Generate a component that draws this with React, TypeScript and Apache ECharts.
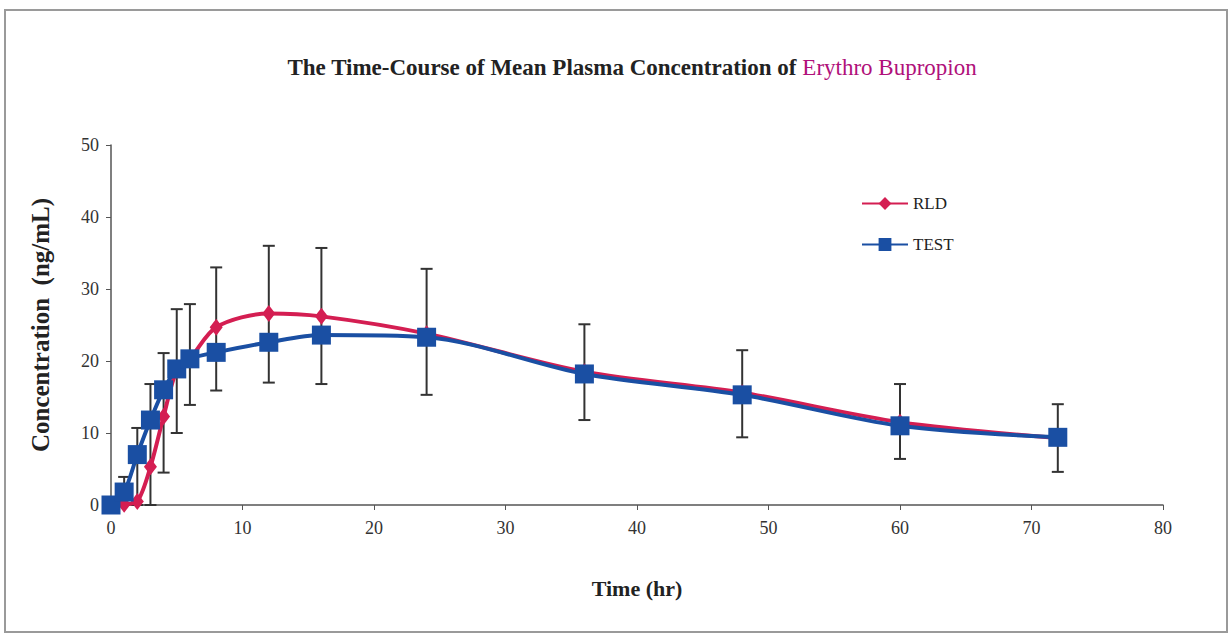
import React, { useEffect, useRef } from "react";
import * as echarts from "echarts";

const times = [0, 1, 2, 3, 4, 5, 6, 8, 12, 16, 24, 36, 48, 60, 72];
const rld = [0, 0.1, 0.5, 5.3, 12.3, 18.7, 20.3, 24.7, 26.6, 26.2, 23.8, 18.5, 15.6, 11.5, 9.3];
const test = [0, 1.8, 7.0, 11.8, 16.0, 18.9, 20.3, 21.2, 22.6, 23.6, 23.3, 18.2, 15.3, 11.0, 9.4];
const errLow = [0, 0, 0, 0, 4.5, 10.0, 13.9, 15.9, 17.0, 16.8, 15.3, 11.8, 9.4, 6.4, 4.6];
const errHigh = [0, 3.9, 10.7, 16.8, 21.1, 27.2, 27.9, 33.0, 36.0, 35.7, 32.8, 25.1, 21.5, 16.8, 14.0];
const xTicks = { min: 0, max: 80, interval: 10 };
const yTicks = { min: 0, max: 50, interval: 10 };

const FONT = "'Liberation Serif', 'Times New Roman', serif";

export default function App() {
  const ref = useRef<HTMLDivElement>(null);
  useEffect(() => {
    if (!ref.current) return;
    const chart = echarts.init(ref.current, null, { renderer: "svg" });
    const errData = times
      .map((t, i) => [t, errLow[i], errHigh[i]])
      .filter((d) => d[2] > d[1]);
    chart.setOption({
      animation: false,
      backgroundColor: "#ffffff",
      grid: { left: 111, right: 68, top: 145, bottom: 132 },
      legend: {
        data: ["RLD", "TEST"],
        orient: "vertical",
        left: 856,
        top: 190,
        itemGap: 24,
        itemWidth: 46,
        itemHeight: 16,
        textStyle: { fontFamily: FONT, fontSize: 17, color: "#222" },
      },
      graphic: [
        {
          type: "rect",
          shape: { x: 5, y: 10, width: 1222, height: 622 },
          style: { fill: "none", stroke: "#9a9a9a", lineWidth: 2 },
          silent: true,
        },
        {
          type: "text",
          x: 632,
          y: 56,
          style: {
            text: "{a|The Time-Course of Mean Plasma Concentration of }{b|Erythro Bupropion}",
            textAlign: "center",
            rich: {
              a: { fontFamily: FONT, fontWeight: "bold", fontSize: 23, fill: "#222" },
              b: { fontFamily: FONT, fontSize: 23, fill: "#b0107a" },
            },
          },
        },
      ],
      xAxis: {
        type: "value",
        min: xTicks.min,
        max: xTicks.max,
        interval: xTicks.interval,
        name: "Time (hr)",
        nameLocation: "middle",
        nameGap: 72,
        nameTextStyle: { fontFamily: FONT, fontWeight: "bold", fontSize: 22, color: "#222" },
        axisLine: { lineStyle: { color: "#555", width: 1.5 } },
        axisTick: { lineStyle: { color: "#555" }, length: 5 },
        axisLabel: { fontFamily: FONT, fontSize: 18, color: "#333", margin: 14 },
        splitLine: { show: false },
      },
      yAxis: {
        type: "value",
        min: yTicks.min,
        max: yTicks.max,
        interval: yTicks.interval,
        name: "Concentration  (ng/mL)",
        nameLocation: "middle",
        nameGap: 58,
        nameTextStyle: { fontFamily: FONT, fontWeight: "bold", fontSize: 25, color: "#222" },
        axisLine: { show: true, lineStyle: { color: "#555", width: 1.5 } },
        axisTick: { show: true, lineStyle: { color: "#555" }, length: 5 },
        axisLabel: { fontFamily: FONT, fontSize: 18, color: "#333", margin: 12 },
        splitLine: { show: false },
      },
      series: [
        {
          type: "custom",
          name: "err",
          z: 1,
          data: errData,
          encode: { x: 0, y: [1, 2] },
          renderItem: (params: any, api: any) => {
            const t = api.value(0);
            const lo = api.coord([t, api.value(1)]);
            const hi = api.coord([t, api.value(2)]);
            const w = 6;
            const st = { stroke: "#333", lineWidth: 2 };
            return {
              type: "group",
              children: [
                { type: "line", shape: { x1: lo[0], y1: lo[1], x2: hi[0], y2: hi[1] }, style: st },
                { type: "line", shape: { x1: hi[0] - w, y1: hi[1], x2: hi[0] + w, y2: hi[1] }, style: st },
                { type: "line", shape: { x1: lo[0] - w, y1: lo[1], x2: lo[0] + w, y2: lo[1] }, style: st },
              ],
            };
          },
        },
        {
          name: "RLD",
          type: "line",
          z: 2,
          smooth: 0.3,
          data: times.map((t, i) => [t, rld[i]]),
          symbol: "diamond",
          symbolSize: [13, 17],
          itemStyle: { color: "#d41e52" },
          lineStyle: { color: "#d41e52", width: 4 },
        },
        {
          name: "TEST",
          type: "line",
          z: 3,
          smooth: 0.3,
          data: times.map((t, i) => [t, test[i]]),
          symbol: "rect",
          symbolSize: 19,
          itemStyle: { color: "#1a4fa3" },
          lineStyle: { color: "#1a4fa3", width: 4 },
        },
      ],
    });
    return () => chart.dispose();
  }, []);
  return (
    <div
      ref={ref}
      style={{ position: "fixed", left: 0, top: 0, width: 1231, height: 637 }}
    />
  );
}
